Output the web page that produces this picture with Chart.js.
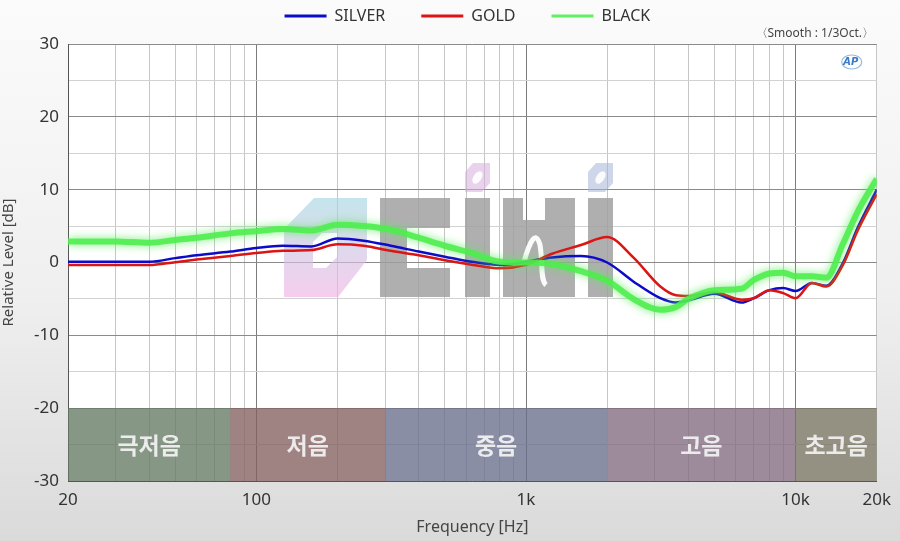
<!DOCTYPE html>
<html>
<head>
<meta charset="utf-8">
<script src="https://cdn.jsdelivr.net/npm/chart.js@4.4.1/dist/chart.umd.min.js"></script>
<style>
  html, body { margin: 0; padding: 0; }
  body {
    width: 900px;
    height: 541px;
    overflow: hidden;
    background: linear-gradient(to bottom, #fbfbfb 0%, #efefef 55%, #dadada 100%);
  }
</style>
</head>
<body>
<canvas id="frChart" width="900" height="541"></canvas>
<script>
// Frequency response data (1/3 oct smoothing)
const freqs = [20, 30, 40, 50, 60, 80, 100, 125, 160, 200, 250, 315, 400, 500, 630, 800,
  1000, 1250, 1600, 2000, 2500, 3150, 3600, 4000, 5000, 6300, 7000, 8000, 9000,
  10000, 11500, 13000, 15000, 17000, 20000];
const silverLevels = [0.1, 0.1, 0.1, 0.6, 1.0, 1.5, 2.0, 2.3, 2.2, 3.3, 3.0, 2.3, 1.5, 0.8, 0.1, -0.35,
  0.1, 0.7, 0.9, 0.0, -2.6, -4.9, -5.5, -5.2, -4.3, -5.5, -4.9, -3.8, -3.5,
  -3.9, -2.8, -3.2, 0.0, 4.8, 10.0];
const goldLevels = [-0.35, -0.35, -0.35, 0.05, 0.4, 0.9, 1.3, 1.6, 1.7, 2.5, 2.3, 1.6, 1.0, 0.3, -0.3, -0.8,
  -0.3, 1.2, 2.4, 3.5, 0.7, -3.3, -4.5, -4.6, -4.1, -5.1, -4.9, -3.8, -4.2,
  -4.9, -2.8, -3.3, -0.3, 4.4, 9.4];
const blackLevels = [2.9, 2.9, 2.7, 3.1, 3.4, 4.0, 4.3, 4.6, 4.4, 5.2, 5.0, 4.5, 3.4, 2.3, 1.3, 0.1,
  0.0, -0.2, -1.2, -2.5, -5.0, -6.5, -6.1, -5.0, -3.8, -3.6, -2.4, -1.5, -1.4,
  -1.9, -1.9, -2.1, 2.6, 7.0, 11.5];

// Axis ticks
const gridFreqs = [20, 30, 40, 50, 60, 70, 80, 90, 100, 200, 300, 400, 500, 600, 700, 800, 900,
  1000, 2000, 3000, 4000, 5000, 6000, 7000, 8000, 9000, 10000, 20000];
const majorFreqs = [100, 1000, 10000];
const xLabelValues = [20, 100, 1000, 10000, 20000];
const xLabelTexts = ["20", "100", "1k", "10k", "20k"];

// Frequency bands along the bottom
const bandNames = ["극저음", "저음", "중음", "고음", "초고음"];
const bandEdges = [20, 80, 300, 2000, 10000, 20000];
const bandColors = [
  "rgba(100, 122, 100, 0.78)",
  "rgba(132, 95, 95, 0.78)",
  "rgba(104, 110, 138, 0.78)",
  "rgba(130, 106, 128, 0.78)",
  "rgba(118, 113, 95, 0.78)",
];

const fontFamily = "'Noto Sans', 'Open Sans', sans-serif";

function toPoints(values) {
  return freqs.map((f, i) => ({ x: f, y: values[i] }));
}

// White plot area on the grey page
const plotBackground = {
  id: "plotBackground",
  beforeDraw(chart) {
    const { ctx, chartArea: a } = chart;
    ctx.save();
    ctx.fillStyle = "#ffffff";
    ctx.fillRect(a.left, a.top, a.right - a.left, a.bottom - a.top);
    ctx.restore();
  },
};

function drawWatermark(ctx) {
  ctx.save();
  // pastel first letter
  const grad = ctx.createLinearGradient(0, 198, 0, 297);
  grad.addColorStop(0, "rgba(165, 215, 225, 0.65)");
  grad.addColorStop(1, "rgba(242, 178, 228, 0.65)");
  ctx.fillStyle = grad;
  ctx.beginPath();
  ctx.moveTo(314, 198);
  ctx.lineTo(367, 198);
  ctx.lineTo(367, 260);
  ctx.lineTo(338, 297);
  ctx.lineTo(284, 297);
  ctx.lineTo(284, 229);
  ctx.closePath();
  ctx.moveTo(322, 233);
  ctx.lineTo(338, 233);
  ctx.lineTo(338, 256);
  ctx.lineTo(326, 268);
  ctx.lineTo(313, 268);
  ctx.lineTo(313, 242);
  ctx.closePath();
  ctx.fill("evenodd");

  // grey blocks
  ctx.fillStyle = "rgba(160, 160, 160, 0.84)";
  ctx.fillRect(380, 198, 27, 99);
  ctx.fillRect(407, 198, 43, 30);
  ctx.fillRect(407, 268, 43, 29);
  ctx.fillRect(465, 198, 25, 99);
  ctx.fillRect(503, 198, 20, 99);
  ctx.fillRect(523, 220, 22, 77);
  ctx.fillRect(545, 198, 30, 99);
  ctx.fillRect(588, 198, 25, 99);

  // white squiggle in the n
  ctx.strokeStyle = "rgba(255, 255, 255, 0.95)";
  ctx.lineWidth = 5;
  ctx.beginPath();
  ctx.moveTo(524, 262);
  ctx.bezierCurveTo(530, 240, 536, 230, 540, 245);
  ctx.bezierCurveTo(543, 262, 540, 280, 546, 285);
  ctx.stroke();

  // dots over the i's
  const dots = [
    [465, "rgba(215, 175, 220, 0.55)"],
    [588, "rgba(165, 180, 215, 0.55)"],
  ];
  dots.forEach(([x, color]) => {
    ctx.fillStyle = color;
    ctx.beginPath();
    ctx.moveTo(x + 8, 163);
    ctx.lineTo(x + 25, 163);
    ctx.lineTo(x + 25, 183);
    ctx.lineTo(x + 17, 192);
    ctx.lineTo(x, 192);
    ctx.lineTo(x, 172);
    ctx.closePath();
    ctx.fill();
    ctx.fillStyle = "rgba(255, 255, 255, 0.9)";
    ctx.beginPath();
    ctx.ellipse(x + 12.5, 177.5, 4, 7, 0.6, 0, Math.PI * 2);
    ctx.fill();
  });
  ctx.restore();
}

// Frequency bands + watermark, drawn over the grid but under the curves
const bandsPlugin = {
  id: "bandsPlugin",
  beforeDatasetsDraw(chart) {
    const { ctx, scales } = chart;
    const xs = scales.x;
    const ys = scales.y;
    const top = ys.getPixelForValue(-20);
    const bottom = ys.getPixelForValue(-30);
    ctx.save();
    bandNames.forEach((name, i) => {
      const left = xs.getPixelForValue(bandEdges[i]);
      const right = xs.getPixelForValue(bandEdges[i + 1]);
      ctx.fillStyle = bandColors[i];
      ctx.fillRect(left, top, right - left, bottom - top);
      ctx.fillStyle = "rgba(240, 240, 240, 0.95)";
      ctx.font = "bold 23px 'Noto Sans CJK KR', sans-serif";
      ctx.textAlign = "center";
      ctx.textBaseline = "middle";
      ctx.fillText(name, (left + right) / 2, (top + bottom) / 2 + 1);
    });
    ctx.restore();
    drawWatermark(ctx);
  },
};

// Soft glow on the green curve
const glowPlugin = {
  id: "glowPlugin",
  beforeDatasetDraw(chart, args) {
    if (chart.data.datasets[args.index].label !== "BLACK") return;
    const ctx = chart.ctx;
    ctx.save();
    ctx.shadowColor = "rgba(90, 235, 90, 0.95)";
    ctx.shadowBlur = 8;
  },
  afterDatasetDraw(chart, args) {
    if (chart.data.datasets[args.index].label !== "BLACK") return;
    chart.ctx.restore();
  },
};

// Legend: fixed height, text near the top edge
const legendPlacement = {
  id: "legendPlacement",
  beforeInit(chart) {
    const origFit = chart.legend.fit;
    chart.legend.fit = function () {
      origFit.call(this);
      this.height = 44;
    };
  },
  afterLayout(chart) {
    chart.legend.top -= 28;
    chart.legend.left -= 5;
    chart.legend.right -= 5;
  },
};

// Small annotations in the top right corner
const cornerNotes = {
  id: "cornerNotes",
  afterDraw(chart) {
    const { ctx, chartArea: a } = chart;
    ctx.save();
    ctx.fillStyle = "#444";
    ctx.font = "12px 'Noto Sans', sans-serif";
    ctx.textAlign = "center";
    ctx.textBaseline = "middle";
    ctx.fillText("〈Smooth : 1/3Oct.〉", a.right - 62, a.top - 10);

    ctx.strokeStyle = "rgba(120, 170, 220, 0.8)";
    ctx.lineWidth = 1.2;
    ctx.beginPath();
    ctx.ellipse(a.right - 25, a.top + 18, 10, 7, 0, 0, Math.PI * 2);
    ctx.stroke();
    ctx.fillStyle = "#3b7cc4";
    ctx.font = "italic bold 10px 'DejaVu Sans', sans-serif";
    ctx.fillText("AP", a.right - 26, a.top + 18);
    ctx.restore();
  },
};

const ctx = document.getElementById("frChart").getContext("2d");

new Chart(ctx, {
  type: "line",
  data: {
    datasets: [
      {
        label: "SILVER",
        data: toPoints(silverLevels),
        borderColor: "#0c0cc8",
        borderWidth: 2.5,
        pointRadius: 0,
        cubicInterpolationMode: "monotone",
        order: 2,
      },
      {
        label: "GOLD",
        data: toPoints(goldLevels),
        borderColor: "#dd1414",
        borderWidth: 2.5,
        pointRadius: 0,
        cubicInterpolationMode: "monotone",
        order: 1,
      },
      {
        label: "BLACK",
        data: toPoints(blackLevels),
        borderColor: "rgba(75, 238, 75, 0.88)",
        borderWidth: 6,
        pointRadius: 0,
        cubicInterpolationMode: "monotone",
        order: 0,
      },
    ],
  },
  options: {
    responsive: false,
    animation: false,
    layout: {
      padding: { left: 0, right: 23, top: 0, bottom: 0 },
    },
    plugins: {
      tooltip: { enabled: false },
      legend: {
        display: true,
        position: "top",
        fullSize: false,
        labels: {
          usePointStyle: true,
          pointStyle: "line",
          pointStyleWidth: 42,
          padding: 36,
          color: "#333",
          font: { family: fontFamily, size: 16 },
          sort: (a, b) => a.datasetIndex - b.datasetIndex,
          generateLabels: function (chart) {
            const items = Chart.defaults.plugins.legend.labels.generateLabels(chart);
            items.forEach((item) => {
              item.lineWidth = 3;
            });
            return items;
          },
        },
      },
    },
    scales: {
      x: {
        type: "logarithmic",
        min: 20,
        max: 20000,
        afterBuildTicks(scale) {
          scale.ticks = gridFreqs.map((v) => ({ value: v, major: majorFreqs.includes(v) }));
        },
        afterFit(scale) {
          scale.height = 60;
        },
        ticks: {
          autoSkip: false,
          maxRotation: 0,
          padding: 9,
          color: "#333",
          font: { family: fontFamily, size: 17 },
          callback: function (value) {
            const i = xLabelValues.indexOf(value);
            return i >= 0 ? xLabelTexts[i] : "";
          },
        },
        grid: {
          drawTicks: false,
          color: (c) => (c.tick && majorFreqs.includes(c.tick.value) ? "#7c7c7c" : "#c6c6c6"),
        },
        border: { color: "#555", width: 1 },
        title: {
          display: true,
          text: "Frequency [Hz]",
          color: "#444",
          font: { family: fontFamily, size: 16 },
          padding: { top: 2, bottom: 4 },
        },
      },
      y: {
        min: -30,
        max: 30,
        afterFit(scale) {
          scale.width = 68;
        },
        ticks: {
          stepSize: 5,
          padding: 9,
          color: "#333",
          font: { family: fontFamily, size: 17 },
          callback: (v) => (v % 10 === 0 ? v : ""),
        },
        grid: {
          drawTicks: false,
          color: (c) => (c.tick && c.tick.value % 10 === 0 ? "#8a8a8a" : "#d2d2d2"),
        },
        border: { color: "#555", width: 1 },
        title: {
          display: true,
          text: "Relative Level [dB]",
          color: "#444",
          font: { family: fontFamily, size: 15 },
          padding: { top: 0, bottom: 0 },
        },
      },
    },
  },
  plugins: [plotBackground, bandsPlugin, glowPlugin, legendPlacement, cornerNotes],
});
</script>
</body>
</html>
